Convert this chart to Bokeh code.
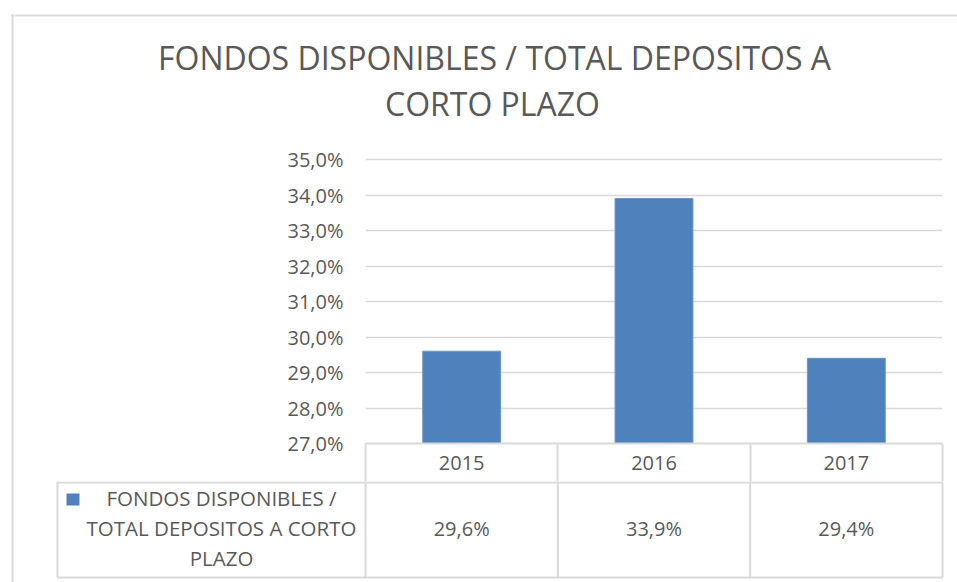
from bokeh.plotting import figure
from bokeh.layouts import row, column
from bokeh.models import (Range1d, FixedTicker, CustomJSTickFormatter,
                          LinearAxis, ColumnDataSource)
from bokeh.core.properties import value
from bokeh.embed import file_html
from bokeh.resources import INLINE

# ---- data ----
years = ["2015", "2016", "2017"]
ratio = [29.6, 33.9, 29.4]
value_labels = ["29,6%", "33,9%", "29,4%"]
y_ticks = [27, 28, 29, 30, 31, 32, 33, 34, 35]
title_lines = ["FONDOS DISPONIBLES / TOTAL DEPOSITOS A", "CORTO PLAZO"]
series_name_lines = ["FONDOS DISPONIBLES /", "TOTAL DEPOSITOS A CORTO", "PLAZO"]

# ---- layout constants (page pixels) ----
PAGE_W, PAGE_H = 957, 582
STRIP_W = 14
COL_W = PAGE_W - STRIP_W
T_H = 140                 # title band
C_BOTTOM = 481            # chart band ends here
PL, PR, PT, PB = 365, 942, 155, 443   # plot frame in page pixels
Y0 = 27
PX_PER_PCT = 35.5
TEXT = "#595959"
LINE = "#D9D9D9"
BAR = "#4F81BD"
FONT = "Open Sans"
FS = "20px"

n = len(years)
slot_centers = [i + 0.5 for i in range(n)]   # category slots on the x scale


def dx(px):
    """page x pixel -> category slot coordinate"""
    return (px - PL) / ((PR - PL) / n)


def blank(w, h, xr, yr):
    f = figure(width=w, height=h, x_range=xr, y_range=yr, output_backend="svg",
               toolbar_location=None, x_axis_location=None, y_axis_location=None,
               min_border=0, frame_align=False)
    f.outline_line_color = None
    f.grid.visible = False
    f.background_fill_color = "white"
    f.border_fill_color = "white"
    return f


# ---- left strip: outer chart border ----
s = blank(STRIP_W, PAGE_H, Range1d(0, STRIP_W), Range1d(PAGE_H, 0))
s.segment(x0=[12, 11], y0=[14, 15], x1=[12, STRIP_W], y1=[PAGE_H, 15],
          line_color=LINE, line_width=2)

# ---- title band ----
t = blank(COL_W, T_H, Range1d(STRIP_W, PAGE_W), Range1d(T_H, 0))
t.segment(x0=[STRIP_W], y0=[15], x1=[PAGE_W], y1=[15], line_color=LINE, line_width=2)
t.text(x=[494, 492], y=[57, 103], text=title_lines, text_font=value(FONT),
       text_font_size="32px", text_color=TEXT, text_align="center",
       text_baseline="alphabetic")

# ---- chart band ----
c_h = C_BOTTOM - T_H
frame_h = PB - PT
c = figure(width=COL_W, height=c_h, x_range=Range1d(0, n),
           y_range=Range1d(Y0, Y0 + frame_h / PX_PER_PCT),
           output_backend="svg", toolbar_location=None, x_axis_location=None,
           min_border_left=PL - STRIP_W, min_border_right=PAGE_W - PR,
           min_border_top=PT - T_H, min_border_bottom=C_BOTTOM - PB,
           frame_align=False)
c.outline_line_color = None
c.background_fill_color = "white"
c.border_fill_color = "white"

src = ColumnDataSource(dict(x=slot_centers, year=years, ratio=ratio))
c.vbar(x="x", top="ratio", bottom=Y0, width=0.405, source=src,
       fill_color=BAR, line_color="#6B95C8", line_width=1)

c.yaxis.ticker = FixedTicker(ticks=y_ticks)
c.yaxis.formatter = CustomJSTickFormatter(code="return tick.toFixed(1).replace('.', ',') + '%';")
c.yaxis.axis_line_color = None
c.yaxis.major_tick_line_color = None
c.yaxis.major_tick_out = 0
c.yaxis.major_tick_in = 0
c.yaxis.minor_tick_line_color = None
c.yaxis.major_label_standoff = 22
c.yaxis.major_label_text_font = FONT
c.yaxis.major_label_text_font_size = FS
c.yaxis.major_label_text_color = TEXT
c.ygrid.grid_line_color = LINE
c.ygrid.grid_line_width = 1.5
c.xgrid.visible = False

# category axis drawn as the header row of the data table
sep_len = C_BOTTOM - PB
xa = LinearAxis(ticker=FixedTicker(ticks=slot_centers, minor_ticks=list(range(n + 1))),
                formatter=CustomJSTickFormatter(args=dict(labels=years),
                                                code="return labels[Math.floor(tick)] || '';"))
xa.axis_line_color = LINE
xa.axis_line_width = 2
xa.major_tick_line_color = None
xa.major_tick_out = 0
xa.major_tick_in = 0
xa.minor_tick_line_color = LINE
xa.minor_tick_line_width = 2
xa.minor_tick_in = 0
xa.minor_tick_out = sep_len
xa.major_label_standoff = 12 - sep_len
xa.major_label_text_font = FONT
xa.major_label_text_font_size = FS
xa.major_label_text_color = TEXT
c.add_layout(xa, "below")

# ---- data table band ----
b_h = PAGE_H - C_BOTTOM
b = blank(COL_W, b_h, Range1d(dx(STRIP_W), dx(PAGE_W)), Range1d(PAGE_H, C_BOTTOM))
left_cell = dx(57)
x0 = list(range(n + 1)) + [left_cell, left_cell, left_cell]
x1 = list(range(n + 1)) + [left_cell, n, n]
y0 = [C_BOTTOM] * (n + 1) + [C_BOTTOM, 482, 577]
y1 = [577] * (n + 1) + [577, 482, 577]
b.segment(x0=x0, y0=y0, x1=x1, y1=y1, line_color=LINE, line_width=2)
b.quad(left=[dx(66)], right=[dx(79)], top=[493], bottom=[505],
       fill_color=BAR, line_color=None)
b.text(x=[dx(221)] * 3, y=[497, 527, 557], text=series_name_lines,
       text_font=value(FONT), text_font_size="20.5px", text_color=TEXT,
       text_align="center", text_baseline="alphabetic")
b.text(x=slot_centers, y=[528] * n, text=value_labels,
       text_font=value(FONT), text_font_size=FS, text_color=TEXT,
       text_align="center", text_baseline="alphabetic")

layout = row(s, column(t, c, b, spacing=0), spacing=0)
open("out.html", "w").write(file_html(layout, INLINE))
